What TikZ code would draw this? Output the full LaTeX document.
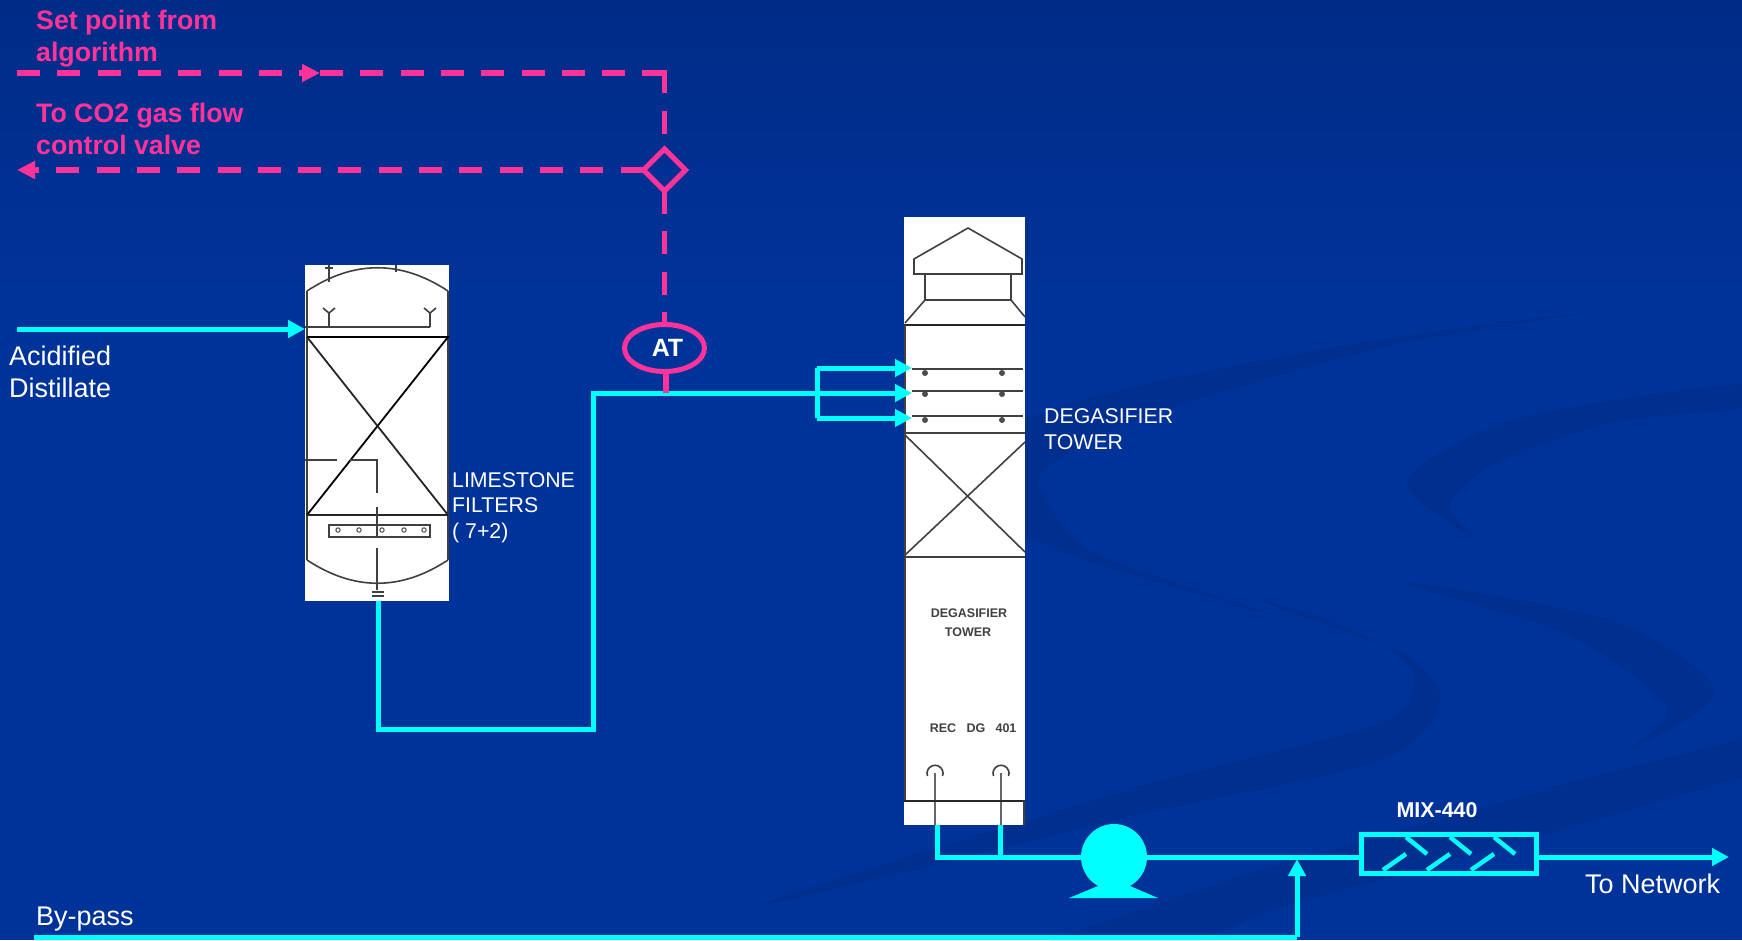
\documentclass[tikz,border=0pt]{standalone}
\usepackage{fontspec}
\setmainfont{Liberation Sans}
\usetikzlibrary{arrows.meta,shapes.geometric}
\definecolor{bgblue}{HTML}{003399}
\definecolor{bgtop}{HTML}{002B87}
\definecolor{swoosh}{HTML}{002F8F}
\definecolor{sigpink}{HTML}{FF3399}
\definecolor{flowcyan}{HTML}{00FFFF}
\tikzset{
  flowline/.style={draw=flowcyan,line width=5pt},
  flowarrow/.style={flowline,-{Triangle[length=17pt,width=17pt]}},
  sigline/.style={draw=sigpink,line width=5.5pt,dash pattern=on 23pt off 17.3pt},
  sigarrow/.style={sigline,-{Triangle[length=18pt,width=17pt]}},
  tankbox/.style={fill=white,draw=none,inner sep=0pt,outer sep=0pt},
  inside/.style={draw=black!75,line width=1.6pt},
  lbl/.style={anchor=west,align=left,inner sep=0pt,text=white,font=\fontsize{21.3}{25.5}\selectfont},
  biglbl/.style={lbl,font=\fontsize{27}{32}\selectfont},
  siglbl/.style={lbl,text=sigpink,font=\fontsize{26.7}{32}\selectfont\bfseries},
  towertxt/.style={inner sep=0pt,text=black!75,font=\fontsize{12.5}{14}\selectfont\bfseries}
}
\begin{document}
\begin{tikzpicture}[x=1pt,y=-1pt,>=Stealth]
\useasboundingbox (0,0) rectangle (1742,940);
\fill[bgblue] (0,0) rectangle (1742,940);
\shade[top color=bgtop,bottom color=bgblue,draw=none] (0,0) rectangle (1742,300);
\fill[swoosh] plot[smooth cycle,tension=.5] coordinates {(1742,384) (1520,418) (1407,480) (1473,537) (1450,504) (1497,463) (1615,422) (1742,408)};
\fill[swoosh] plot[smooth cycle,tension=.5] coordinates {(1592,312) (1379,340) (1142,385) (1000,430) (950,490) (1000,525) (1095,563) (1284,618) (1095,553) (1045,496) (1047,468) (1142,418) (1379,348)};
\fill[swoosh] plot[smooth cycle,tension=.5] coordinates {(1250,597) (1340,630) (1412,659) (1440,704) (1379,761) (1142,814) (760,905) (1142,786) (1379,724) (1414,680) (1390,650) (1330,620)};
\fill[swoosh] plot[smooth cycle,tension=.5] coordinates {(1402,582) (1615,622) (1715,692) (1625,751) (1667,708) (1568,635)};
\fill[swoosh] (1742,739) -- (1580,780) -- (1270,867) -- (1050,940) -- (1200,940) -- (1270,910) -- (1537,837) -- (1742,777) -- cycle;

\node[tankbox,minimum width=144pt,minimum height=336pt] (limestone) at (377,433) {};
\node[tankbox,minimum width=121pt,minimum height=608pt] (degas) at (964.5,521) {};

\draw[inside] (307,291) .. controls (354,260) and (401,260) .. (448,291);
\draw[inside] (307,560) .. controls (354,591) and (401,591) .. (448,560);
\draw[inside] (307,291) -- (307,560) (448,291) -- (448,560);
\draw[inside] (329,265) -- (329,282) (325,268) -- (333,268) (396,265) -- (396,272);
\draw[inside] (305,327) -- (430,327);
\foreach \x in {329,430}{\draw[inside] (\x,327) -- (\x,313) (\x-6,308) -- (\x,313) -- (\x+6,308);}
\draw[draw=black,line width=1.8pt] (307,337) -- (448,337) -- (307,515);
\draw[draw=black!85,line width=1.8pt] (307,337) -- (448,515) (307,515) -- (448,515);
\draw[inside] (305,460) -- (337,460) (350,460) -- (377,460) -- (377,493) (377,507) -- (377,537) (377,548) -- (377,590);
\draw[inside] (329,525) rectangle (430,537);
\foreach \x in {338,359,382,404,424}{\draw[draw=black!70,line width=1pt] (\x,530) circle (2.2pt);}
\draw[inside] (372,592) -- (384,592) (372,596) -- (384,596);

\draw[inside] (914,259) -- (968,228) -- (1022,259) -- (1022,274) -- (914,274) -- cycle;
\draw[inside] (925,274) -- (925,300) -- (1011,300) -- (1011,274);
\draw[inside] (925,300) -- (905,323) (1011,300) -- (1025,317);
\draw[draw=black!85,line width=1.4pt] (904,325) -- (1025,325);
\draw[inside] (905,325) -- (905,800);
\foreach \y/\m in {369/373,391/394,416/420}{
  \draw[inside] (912,\y) -- (1023,\y);
  \fill[black!70] (925,\m) circle (3pt) (1002,\m) circle (3pt);
}
\draw[inside] (904,433) -- (1025,433) (904,557) -- (1025,557);
\draw[inside] (905,435) -- (1025,552) (1025,442) -- (905,555);
\node[towertxt] (degastxt) at (969,613) {DEGASIFIER};
\node[towertxt] (towertxt) at (968,632) {TOWER};
\foreach \x/\t in {943/REC,976/DG,1006/401}{\node[towertxt] (rec\t) at (\x,728) {\t};}
\foreach \x in {935,1001}{
  \draw[inside] (\x-7.5,776) arc[start angle=200,end angle=-20,radius=8pt];
  \draw[draw=black!60,line width=1.8pt] (\x,773) -- (\x,825);
}
\draw[draw=black!85,line width=1.2pt] (904,801) -- (1025,801);
\draw[inside] (1024,801) -- (1024,825);

\node[ellipse,draw=sigpink,line width=5pt,minimum width=80pt,minimum height=47pt,inner sep=0pt,outer sep=0pt,text=white,font=\fontsize{25}{30}\selectfont\bfseries] (at) at (664.5,348) {\hspace{6pt}AT};
\node[diamond,draw=sigpink,line width=5pt,minimum width=42pt,minimum height=42pt,inner sep=0pt,outer sep=0pt] (ctrl) at (664.5,170) {};
\fill[flowcyan] (1069,898) -- (1158,898) -- (1130,886) -- (1098,886) -- cycle;
\node[circle,fill=flowcyan,minimum size=66pt,inner sep=0pt,outer sep=0pt] (pump) at (1114,857) {};
\node[draw=flowcyan,line width=5pt,minimum width=175pt,minimum height=39pt,inner sep=0pt,outer sep=0pt] (mix) at (1449,854) {};
\foreach \x in {0,44,88}{
  \draw[flowcyan,line width=4.5pt] (1383+\x,870) -- (1406+\x,854);
  \draw[flowcyan,line width=4.5pt] (1406+\x,837) -- (1427+\x,854);
}

\coordinate (setin) at (17,73);
\coordinate (setmid) at (320,73);
\coordinate (setcorner) at (664.5,73);
\coordinate (co2out) at (17,170);
\coordinate (atdrop) at (666,393);
\coordinate (feedin) at (17,329);
\coordinate (feedtip) at (305,329);
\coordinate (filtout) at (378,601);
\coordinate (filtlow) at (378,729);
\coordinate (riselow) at (593,729);
\coordinate (risetop) at (593,393);
\coordinate (manmid) at (817,393);
\coordinate (mantop) at (817,368);
\coordinate (manlow) at (817,418);
\coordinate (traya) at (912,368);
\coordinate (trayb) at (912,393);
\coordinate (trayc) at (912,418);
\coordinate (legout) at (937,825);
\coordinate (legcorner) at (937,857);
\coordinate (legtwo) at (1000,825);
\coordinate (legjoin) at (1000,857);
\coordinate (netout) at (1729,857);
\coordinate (bypin) at (34,937);
\coordinate (bypcorner) at (1297,937);
\coordinate (bypjoin) at (1297,859);

\draw[sigarrow] (setin) -- (setmid);
\draw[sigline] (setmid) -- (setcorner);
\draw[sigline] (setcorner) ++(0,-2.75) -- (ctrl.north);
\draw[sigarrow] (ctrl.west) -- (co2out);
\draw[sigline] (ctrl.south) -- (at.north);
\draw[flowarrow] (feedin) -- (feedtip);
\draw[flowline] (filtout) -- (filtlow) -- (riselow) -- (risetop) -- (manmid);
\draw[flowline] (manlow) -- (mantop);
\draw[flowarrow] (mantop) -- (traya);
\draw[flowarrow] (manmid) -- (trayb);
\draw[flowarrow] (manlow) -- (trayc);
\draw[draw=sigpink,line width=5.5pt] (at.south -| atdrop) -- (atdrop);
\draw[flowline] (legout) -- (legcorner) -- (pump.west);
\draw[flowline] (legtwo) -- (legjoin);
\draw[flowline] (pump.east) -- (mix.west |- pump.east);
\draw[flowarrow] (mix.east |- netout) -- (netout);
\draw[flowline] (bypin) -- (bypcorner);
\draw[flowarrow] (bypcorner) -- (bypjoin);

\node[siglbl] (setlbl) at (36,39) {Set point from\\algorithm};
\node[siglbl] (co2lbl) at (36,129) {To CO2 gas flow\\control valve};
\node[biglbl] (acidlbl) at (9,372) {Acidified\\Distillate};
\node[lbl] (filtlbl) at (452,507.5) {LIMESTONE\\FILTERS\\( 7+2)};
\node[lbl] (degaslbl) at (1044,429) {DEGASIFIER\\TOWER};
\node[biglbl] (byplbl) at (36,919) {By-pass};
\node[biglbl] (netlbl) at (1585,884) {To Network};
\node[lbl,anchor=center,font=\fontsize{21.4}{25}\selectfont\bfseries] (mixlbl) at (1437,810) {MIX-440};
\end{tikzpicture}
\end{document}
